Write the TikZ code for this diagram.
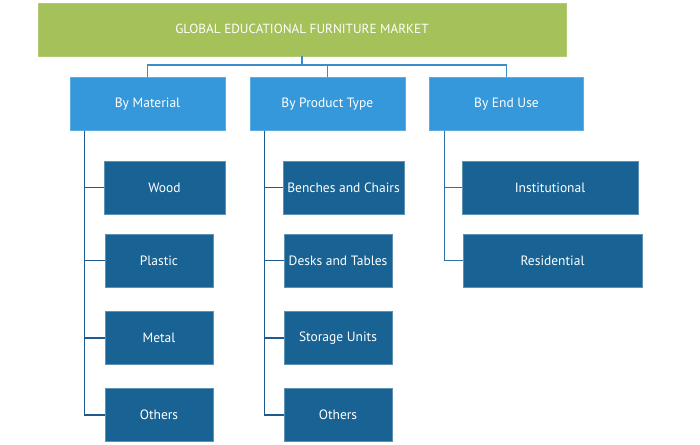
\documentclass[tikz,border=0pt]{standalone}
\usepackage{fontspec}
\setmainfont{PT Sans}
\definecolor{topgreen}{HTML}{A5C159}
\definecolor{segblue}{HTML}{3498DA}
\definecolor{subblue}{HTML}{186393}
\definecolor{linelight}{HTML}{3A8CCB}
\definecolor{linedark}{HTML}{1F5A8E}
\tikzset{
  titlebox/.style={fill=topgreen,draw=topgreen!85!white,text=white,inner sep=0pt,
    minimum width=528pt,minimum height=53pt,font=\fontsize{13.2}{15}\selectfont},
  segbox/.style={fill=segblue,draw=segblue!80!white,text=white,inner sep=0pt,
    minimum height=53pt,font=\fontsize{13.5}{15}\selectfont},
  subbox/.style={fill=subblue,draw=subblue!70!white,text=white,inner sep=0pt,
    minimum height=53pt,font=\fontsize{13.5}{15}\selectfont},
  link/.style={line width=1.2pt,draw=linelight},
  spine/.style={line width=1.2pt,draw=linedark}
}
\begin{document}
\begin{tikzpicture}[x=1pt,y=-1pt]
\useasboundingbox (0,0) rectangle (700,444);

%Title
\node [titlebox] (market) at (302,29.3) {GLOBAL EDUCATIONAL FURNITURE MARKET};

%Segments
\node [segbox,minimum width=155pt] (material) at (147.5,104) {By Material};
\node [segbox,minimum width=155pt] (product) at (327.3,104) {By Product Type};
\node [segbox,minimum width=154pt] (enduse) at (506.5,104) {By End Use};

%Material
\node [subbox,minimum width=121pt] (wood) at (164.5,187.5) {Wood};
\foreach \n/\y/\t in {plastic/260.5/Plastic,metal/338/Metal,othersA/415/Others}
	\node [subbox,minimum width=108pt] (\n) at (159,\y) {\t};

%Product type
\node [subbox,minimum width=121pt] (benches) at (343.5,187.5) {Benches and Chairs};
\foreach \n/\y/\t in {desks/260.5/Desks and Tables,storage/338/Storage Units,othersB/415/Others}
	\node [subbox,minimum width=108pt] (\n) at (338,\y) {\t};

%End use
\node [subbox,minimum width=176pt] (institutional) at (550,187.5) {Institutional};
\node [subbox,minimum width=179pt] (residential) at (552.5,260.5) {Residential};

%Flow lines
\coordinate (bus) at (302,65);
\draw [link] (market.south) -- (bus);
\draw [link] (material.north) |- (bus) -| (enduse.north);
\draw [link] (product.north) -- (product.north |- bus);

\foreach \c in {wood,plastic,metal,othersA}
	\draw [spine] ([xshift=15pt]material.south west) |- (\c.west);
\foreach \c in {benches,desks,storage,othersB}
	\draw [spine] ([xshift=14.5pt]product.south west) |- (\c.west);
\foreach \c in {institutional,residential}
	\draw [spine,draw=linelight!80!black] ([xshift=15pt]enduse.south west) |- (\c.west);
\end{tikzpicture}
\end{document}
